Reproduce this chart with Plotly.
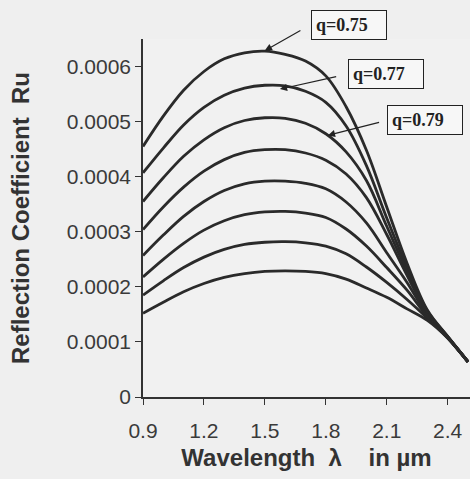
import plotly.graph_objects as go

wavelength = [0.9, 1.0, 1.1, 1.2, 1.3, 1.4, 1.5, 1.6, 1.7, 1.8, 1.9, 2.0, 2.1, 2.2, 2.3, 2.4, 2.5]

ru_q075 = [0.000455, 0.000510, 0.000557, 0.000591, 0.000614, 0.000625, 0.000628, 0.000622, 0.000610,
           0.000583, 0.000527, 0.000448, 0.000345, 0.000243, 0.000158, 0.000110, 0.000064]
ru_q077 = [0.000407, 0.000452, 0.000494, 0.000526, 0.000548, 0.000561, 0.000566, 0.000565, 0.000555,
           0.000535, 0.000492, 0.000420, 0.000325, 0.000235, 0.000156, 0.000110, 0.000064]
ru_q079 = [0.000355, 0.000398, 0.000437, 0.000467, 0.000489, 0.000502, 0.000507, 0.000506, 0.000497,
           0.000478, 0.000445, 0.000393, 0.000310, 0.000228, 0.000154, 0.000109, 0.000064]
ru_c4 = [0.000304, 0.000345, 0.000381, 0.000410, 0.000431, 0.000444, 0.000449, 0.000449, 0.000443,
         0.000430, 0.000405, 0.000362, 0.000295, 0.000221, 0.000152, 0.000109, 0.000064]
ru_c5 = [0.000257, 0.000294, 0.000328, 0.000355, 0.000375, 0.000387, 0.000392, 0.000392, 0.000388,
         0.000378, 0.000354, 0.000316, 0.000262, 0.000208, 0.000149, 0.000108, 0.000064]
ru_c6 = [0.000218, 0.000250, 0.000279, 0.000303, 0.000320, 0.000331, 0.000336, 0.000337, 0.000334,
         0.000326, 0.000305, 0.000274, 0.000235, 0.000194, 0.000146, 0.000108, 0.000064]
ru_c7 = [0.000185, 0.000211, 0.000235, 0.000254, 0.000268, 0.000277, 0.000281, 0.000282, 0.000280,
         0.000274, 0.000260, 0.000236, 0.000208, 0.000177, 0.000143, 0.000107, 0.000064]
ru_c8 = [0.000152, 0.000172, 0.000191, 0.000206, 0.000217, 0.000224, 0.000228, 0.000229, 0.000228,
         0.000224, 0.000214, 0.000198, 0.000181, 0.000160, 0.000139, 0.000107, 0.000064]

series = [("q=0.75", ru_q075), ("q=0.77", ru_q077), ("q=0.79", ru_q079),
          ("curve 4", ru_c4), ("curve 5", ru_c5), ("curve 6", ru_c6),
          ("curve 7", ru_c7), ("curve 8", ru_c8)]

x_ticks = [0.9, 1.2, 1.5, 1.8, 2.1, 2.4]
x_tick_text = ["0.9", "1.2", "1.5", "1.8", "2.1", "2.4"]
y_ticks = [0, 0.0001, 0.0002, 0.0003, 0.0004, 0.0005, 0.0006]
y_tick_text = ["0", "0.0001", "0.0002", "0.0003", "0.0004", "0.0005", "0.0006"]

# labelled curves: (text, tip x, tip y, box offset x, box offset y, start standoff)
labels = [("q=0.75", 1.50, 0.000629, 46, -26, 12),
          ("q=0.77", 1.574, 0.000559, 68, -15, 12),
          ("q=0.79", 1.81, 0.000475, 59, -15, 8)]

fig = go.Figure()
for name, vals in series:
    fig.add_trace(go.Scatter(x=wavelength, y=vals, mode="lines", name=name,
                             line=dict(color="#2a2a2a", width=2.8, shape="spline", smoothing=1.0),
                             showlegend=False))

for text, tx, ty, ax, ay, ss in labels:
    fig.add_annotation(x=tx, y=ty, xref="x", yref="y", text="<b>" + text + "</b>",
                       showarrow=True, ax=ax, ay=ay, xanchor="left", yanchor="middle",
                       startstandoff=ss, arrowhead=2, arrowsize=1.2, arrowwidth=1.2,
                       arrowcolor="#222", bordercolor="#222", borderwidth=1, borderpad=4,
                       width=66, height=20, align="left",
                       bgcolor="#f7f7f7",
                       font=dict(family="Liberation Serif", size=18, color="#222"))

fig.update_layout(
    width=470, height=479,
    margin=dict(l=143, r=0, t=39, b=82, autoexpand=False),
    paper_bgcolor="#efefef", plot_bgcolor="#f1f1f1",
    font=dict(family="Liberation Sans", color="#3a3a3a"),
    xaxis=dict(range=[0.9, 2.51], tickvals=x_ticks, ticktext=x_tick_text, automargin=False,
               showgrid=False, zeroline=False, showline=True, linecolor="#333", linewidth=1.5,
               ticks="outside", ticklen=6, tickcolor="#333", ticklabelstandoff=8,
               tickfont=dict(size=21, color="#3a3a3a"),
               title=dict(text="<b>Wavelength  λ    in µm</b>", font=dict(size=24, color="#333"), standoff=8)),
    yaxis=dict(range=[0, 0.00065], tickvals=y_ticks, ticktext=y_tick_text, automargin=False,
               showgrid=False, zeroline=False, showline=True, linecolor="#333", linewidth=1.5,
               ticks="outside", ticklen=6, tickcolor="#333",
               tickfont=dict(size=21, color="#3a3a3a"),
               title=dict(text="<b>Reflection Coefficient  Ru</b>", font=dict(size=24, color="#333"), standoff=30)),
)

fig.write_html("out.html", config={"displayModeBar": False},
               post_script="document.body.style.margin='0';")
